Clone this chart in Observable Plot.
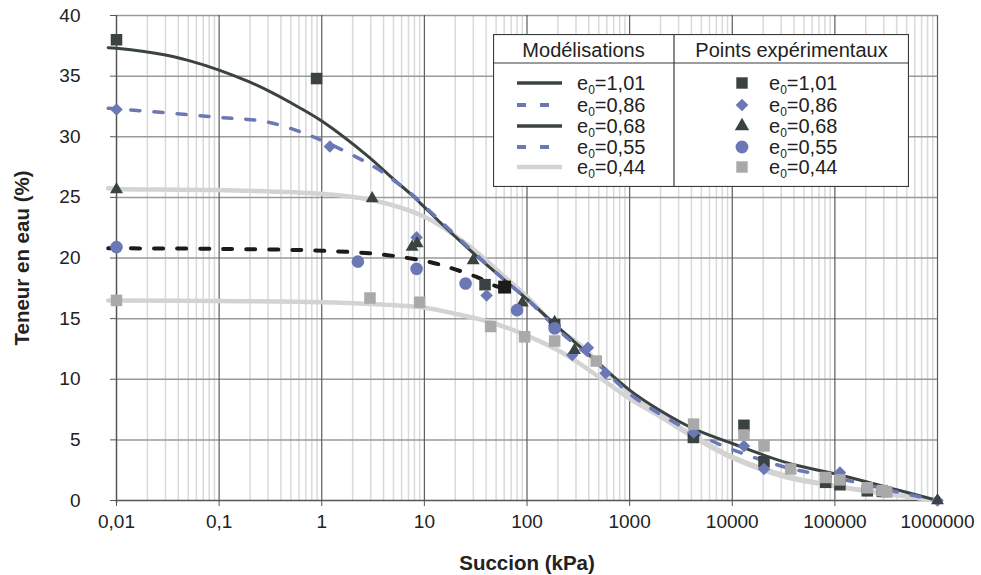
<!DOCTYPE html>
<html>
<head>
<meta charset="utf-8">
<script src="https://cdn.jsdelivr.net/npm/d3@7"></script>
<script src="https://cdn.jsdelivr.net/npm/@observablehq/plot@0.6"></script>
<style>
  html, body { margin: 0; padding: 0; background: #fff; }
  #wrap { position: relative; width: 981px; height: 575px; font-family: "Liberation Sans", Arial, sans-serif; }
  #wrap svg g[aria-label="x-axis label"] text,
  #wrap svg g[aria-label="y-axis label"] text { font-weight: bold; font-size: 20.5px; }
  #legend { position: absolute; left: 493px; top: 34px; }
</style>
</head>
<body>
<div id="wrap"></div>
<script>
// ---------- Data ----------
const xTicks = [0.01, 0.1, 1, 10, 100, 1000, 10000, 100000, 1000000];
const yTicks = [0, 5, 10, 15, 20, 25, 30, 35, 40];
const seriesLabels = ["1,01", "0,86", "0,68", "0,55", "0,44"];

// Model curves (suction kPa, water content %)
const m101S = [0.0083, 0.01, 0.03, 0.05, 0.1, 0.2, 0.3, 0.5, 1, 2.77, 5, 7.3, 10, 14.2, 30, 60, 100, 200, 500, 1000, 2000, 4240, 10000, 34400, 100000, 320000, 1000000];
const m101W = [37.35, 37.3, 36.75, 36.3, 35.5, 34.5, 33.8, 32.8, 31.3, 28.45, 26.5, 25.3, 24.2, 22.95, 20.4, 18.2, 16.6, 14.3, 11.3, 9.1, 7.4, 5.9, 4.7, 3.1, 2.2, 1.1, 0];

const m086S = [0.0083, 0.01, 0.1, 0.3, 0.84, 2.2, 3.5, 5.3, 7.9, 11.5, 16.8, 30, 60, 100, 200, 500, 1000, 2000, 4240, 10000, 34400, 100000, 320000, 1000000];
const m086W = [32.35, 32.3, 31.6, 31.2, 29.97, 28.3, 27.35, 26.25, 25.1, 23.8, 22.5, 20.5, 18.2, 16.6, 14.1, 11.2, 8.8, 7.1, 5.6, 4.2, 2.7, 1.9, 0.9, 0];

const m068S = [0.0083, 0.01, 0.1, 1, 3, 10, 28.2, 51, 100, 200, 333, 1000, 2000, 4240, 10000, 34400, 100000, 320000, 1000000];
const m068W = [25.75, 25.7, 25.6, 25.3, 24.8, 23.4, 20.9, 19.0, 16.8, 14.2, 12.8, 8.8, 7.1, 5.3, 3.6, 2.0, 1.2, 0.55, 0];

const m055S = [0.0083, 0.01, 0.1, 1, 3.74, 11.5, 19.3, 33, 49, 60];
const m055W = [20.8, 20.8, 20.75, 20.6, 20.3, 19.65, 19.1, 18.4, 17.7, 17.5];

const m044S = [0.0083, 0.01, 0.1, 1, 3, 10, 20, 44, 100, 200, 300, 500, 1000, 2000, 4240, 10000, 34400, 100000, 320000, 1000000];
const m044W = [16.5, 16.5, 16.45, 16.35, 16.2, 15.9, 15.4, 14.7, 13.6, 12.4, 11.5, 10.2, 8.4, 6.9, 5.2, 3.5, 1.9, 1.2, 0.55, 0];

// Experimental points
const p101S = [0.01, 0.89, 39, 186, 4180, 13000, 20400, 81300, 112000, 207000, 290000];
const p101W = [38.0, 34.8, 17.8, 14.5, 5.2, 6.2, 3.2, 1.5, 1.3, 0.8, 0.75];

const p086S = [0.01, 1.2, 8.4, 40.4, 276, 392, 582, 4200, 13000, 20400, 112000, 1000000];
const p086W = [32.25, 29.2, 21.7, 16.9, 12.0, 12.6, 10.5, 5.6, 4.5, 2.6, 2.3, 0];

const p068S = [0.01, 3.1, 7.6, 8.5, 29.9, 90, 186, 290, 1000000];
const p068W = [25.65, 24.9, 20.9, 21.2, 19.8, 16.3, 14.7, 12.4, 0];

const p055S = [0.01, 2.25, 8.4, 25.2, 80, 186];
const p055W = [20.9, 19.7, 19.1, 17.9, 15.7, 14.2];

const p044S = [0.01, 2.95, 9.0, 44.2, 94.8, 186, 473, 4200, 13000, 20400, 37100, 81300, 112000, 207000, 290000, 320000];
const p044W = [16.5, 16.7, 16.35, 14.35, 13.5, 13.15, 11.5, 6.3, 5.4, 4.5, 2.6, 1.9, 1.7, 1.05, 0.82, 0.7];

// end marker of the e0=0,55 model curve
const m055EndS = [60.5];
const m055EndW = [17.6];

// ---------- Build ----------
const zip = (s, w) => s.map((d, i) => ({s: d, w: w[i]}));
const minorTicks = [];
for (let e = -2; e < 6; e++) for (let k = 2; k <= 9; k++) minorTicks.push(+(k * Math.pow(10, e)).toPrecision(3));

const DARK = "#3a4341", BLUE = "#6b78b6", LGRAY = "#d3d3d3", MGRAY = "#a9a9a9", BLACK = "#1b1b1b";
const fmt = d => String(d).replace(".", ",");
const CURVE = "catmull-rom";

const chart = Plot.plot({
  width: 981, height: 575,
  marginLeft: 116, marginRight: 44, marginTop: 15, marginBottom: 75,
  style: {fontFamily: "'Liberation Sans', Arial, sans-serif", fontSize: "19px", color: "#222", background: "white", overflow: "visible"},
  x: {type: "log", domain: [0.01, 1000000]},
  y: {domain: [0, 40]},
  marks: [
    Plot.ruleX(minorTicks, {stroke: "#d9d9d9", strokeWidth: 1.5}),
    Plot.ruleY(yTicks.filter(d => d > 0), {stroke: "#9a9a9a", strokeWidth: 1.5}),
    Plot.ruleX(xTicks.slice(1), {stroke: "#5c5c5c", strokeWidth: 1.2}),
    Plot.axisX({ticks: xTicks, tickFormat: fmt, tickSize: 6, tickPadding: 8, stroke: "#555",
      label: "Succion (kPa)", labelAnchor: "center", labelOffset: 69, labelArrow: "none"}),
    Plot.axisY({ticks: yTicks, tickSize: 6, tickPadding: 30, stroke: "#555",
      label: "Teneur en eau (%)", labelAnchor: "center", labelOffset: 102, labelArrow: "none"}),
    Plot.ruleY([0], {stroke: "#555", strokeWidth: 1.5}),
    Plot.ruleX([0.01], {stroke: "#555", strokeWidth: 1.5, insetBottom: -3}),
    // model curves
    Plot.line(zip(m044S, m044W), {x: "s", y: "w", stroke: LGRAY, strokeWidth: 4.5, curve: CURVE}),
    Plot.line(zip(m068S, m068W), {x: "s", y: "w", stroke: LGRAY, strokeWidth: 4.5, curve: CURVE}),
    Plot.line(zip(m101S, m101W), {x: "s", y: "w", stroke: DARK, strokeWidth: 3, curve: CURVE}),
    Plot.line(zip(m086S, m086W), {x: "s", y: "w", stroke: BLUE, strokeWidth: 3.5, strokeDasharray: "9,14", curve: CURVE}),
    Plot.line(zip(m055S, m055W), {x: "s", y: "w", stroke: BLACK, strokeWidth: 4, strokeDasharray: "9,14", curve: CURVE}),
    // experimental points
    Plot.dot(zip(p101S, p101W), {x: "s", y: "w", symbol: "square", r: 6.5, fill: DARK}),
    Plot.dot(zip(p086S, p086W), {x: "s", y: "w", symbol: "square", r: 5, rotate: 45, fill: BLUE}),
    Plot.dot(zip(p068S, p068W), {x: "s", y: "w", symbol: "triangle", r: 4.8, fill: DARK}),
    Plot.dot(zip(p055S, p055W), {x: "s", y: "w", symbol: "circle", r: 6.3, fill: BLUE}),
    Plot.dot(zip(p044S, p044W), {x: "s", y: "w", symbol: "square", r: 6.5, fill: MGRAY}),
    Plot.dot(zip(m055EndS, m055EndW), {x: "s", y: "w", symbol: "square", r: 7.3, fill: BLACK})
  ]
});
const wrap = document.getElementById("wrap");
wrap.appendChild(chart);

// ---------- Legend ----------
const legendLines = [
  {stroke: DARK, width: 3.5, dash: null},
  {stroke: BLUE, width: 4, dash: "9,14"},
  {stroke: DARK, width: 3.5, dash: null},
  {stroke: BLUE, width: 4, dash: "9,14"},
  {stroke: LGRAY, width: 4.5, dash: null}
];
const legendSymbols = [
  {sym: d3.symbolSquare, size: 130, fill: DARK, rot: 0},
  {sym: d3.symbolSquare, size: 80, fill: BLUE, rot: 45},
  {sym: d3.symbolTriangle, size: 90, fill: DARK, rot: 0},
  {sym: d3.symbolCircle, size: 130, fill: BLUE, rot: 0},
  {sym: d3.symbolSquare, size: 130, fill: MGRAY, rot: 0}
];
const rowY = [49, 71, 92, 113, 133];
const W = 416, H = 153, DIV = 181;
let s = `<svg id="legend" width="${W}" height="${H}" font-family="'Liberation Sans', Arial, sans-serif" font-size="20" fill="#222">`;
s += `<rect x="0.5" y="0.5" width="${W - 1}" height="${H - 1}" fill="#fff" stroke="#3a3a3a" stroke-width="1.2"/>`;
s += `<line x1="0" x2="${W}" y1="29" y2="29" stroke="#3a3a3a" stroke-width="1.2"/>`;
s += `<line x1="${DIV}" x2="${DIV}" y1="0" y2="${H}" stroke="#3a3a3a" stroke-width="1.2"/>`;
s += `<text x="${DIV / 2}" y="23" text-anchor="middle">Modélisations</text>`;
s += `<text x="${(DIV + W) / 2}" y="23" text-anchor="middle">Points expérimentaux</text>`;
const lab = (x, y, t) => `<text x="${x}" y="${y}">e<tspan font-size="12" dy="4">0</tspan><tspan dy="-4">=${t}</tspan></text>`;
seriesLabels.forEach((t, i) => {
  const y = rowY[i];
  const L = legendLines[i];
  s += `<line x1="24" x2="69" y1="${y}" y2="${y}" stroke="${L.stroke}" stroke-width="${L.width}"${L.dash ? ` stroke-dasharray="${L.dash}"` : ""}/>`;
  s += lab(84, y + 7, t);
  const S = legendSymbols[i];
  s += `<path d="${d3.symbol(S.sym, S.size)()}" fill="${S.fill}" transform="translate(249,${y}) rotate(${S.rot})"/>`;
  s += lab(276, y + 7, t);
});
s += `</svg>`;
wrap.insertAdjacentHTML("beforeend", s);
</script>
</body>
</html>
